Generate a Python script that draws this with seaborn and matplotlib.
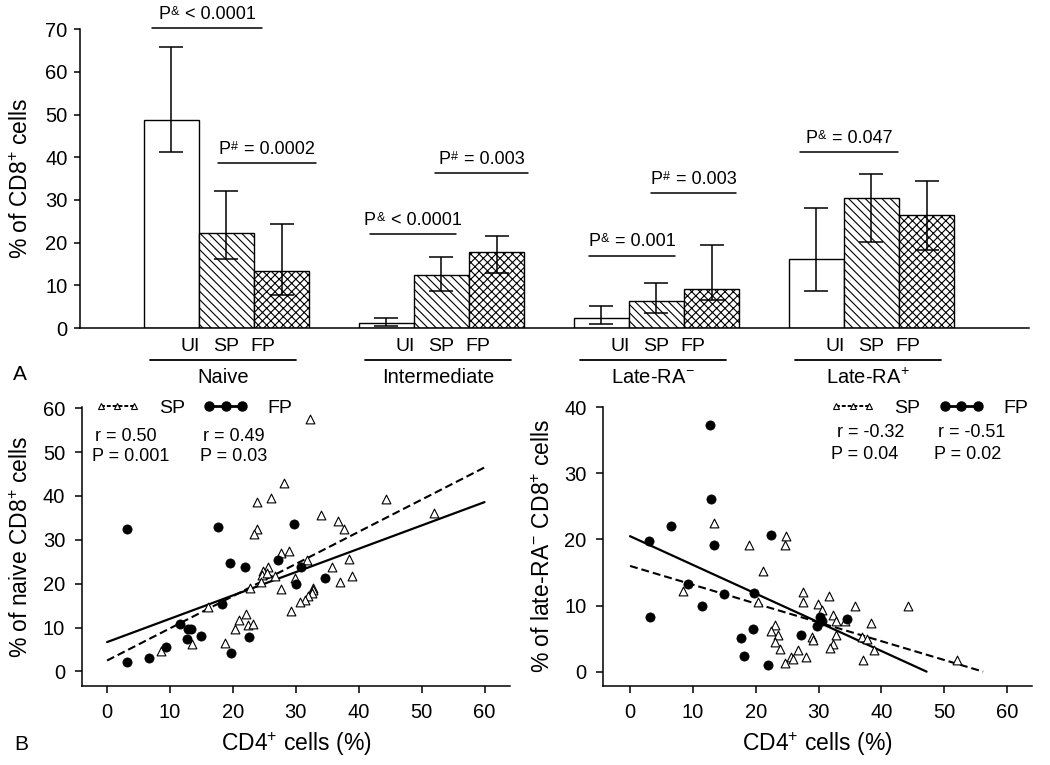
import matplotlib
matplotlib.use("Agg")
import matplotlib.pyplot as plt
from matplotlib.lines import Line2D
from matplotlib.offsetbox import TextArea, HPacker, AnnotationBbox
import seaborn as sns
import pandas as pd
import numpy as np

sns.set_style("ticks")
plt.rcParams['font.family'] = ['Liberation Sans', 'DejaVu Sans']
plt.rcParams['mathtext.fontset'] = 'custom'
plt.rcParams['mathtext.rm'] = 'Liberation Sans'
plt.rcParams['mathtext.it'] = 'Liberation Sans:italic'
plt.rcParams['mathtext.bf'] = 'Liberation Sans:bold'
plt.rcParams['hatch.linewidth'] = 0.8
for key in ['text.color', 'axes.labelcolor', 'xtick.color', 'ytick.color',
            'axes.edgecolor']:
    plt.rcParams[key] = 'black'

# ---- panel A: bar chart ----
groups = ["Naive", "Intermediate", "Late-RA$^{-}$", "Late-RA$^{+}$"]
subsets = ["UI", "SP", "FP"]
ui_mean = [48.8, 1.3, 2.3, 16.1]
ui_low = [41.2, 0.5, 0.9, 8.7]
ui_high = [65.9, 2.5, 5.2, 28.2]
sp_mean = [22.2, 12.4, 6.4, 30.4]
sp_low = [16.3, 8.7, 3.5, 20.1]
sp_high = [32.0, 16.6, 10.5, 36.1]
fp_mean = [13.3, 17.9, 9.2, 26.6]
fp_low = [7.7, 12.8, 6.7, 18.4]
fp_high = [24.4, 21.6, 19.5, 34.4]

p_sup = ["&", "#", "&", "#", "&", "#", "&"]
p_text = ["< 0.0001", "= 0.0002", "< 0.0001", "= 0.003", "= 0.001",
          "= 0.003", "= 0.047"]
p_x0 = [-0.347, -0.040, 0.667, 0.970, 1.686, 1.974, 2.667]
p_x1 = [0.165, 0.416, 1.066, 1.402, 2.086, 2.370, 3.123]
p_y = [70.2, 38.6, 22.0, 36.3, 17.0, 31.7, 41.2]

# ---- panel B: scatter (naive) ----
naive_fp_x = [3.1, 3.1, 6.6, 9.3, 11.6, 12.7, 12.9, 13.4, 15.0, 17.7,
              18.2, 19.6, 19.7, 21.9, 22.6, 27.2, 29.7, 30.1, 30.8, 34.6]
naive_fp_y = [32.4, 2.05, 3.0, 5.5, 10.9, 7.4, 9.6, 9.6, 8.0, 32.9,
              15.4, 24.7, 4.25, 23.9, 7.8, 25.4, 33.6, 19.9, 23.9, 21.3]
naive_sp_x = [32.3, 28.1, 26.0, 23.8, 44.3, 34.0, 52.0, 36.7, 37.6, 23.9,
              23.4, 27.6, 29.0, 38.4, 31.8, 35.8, 25.6, 24.8, 24.6, 25.4,
              26.7, 29.9, 39.0, 37.1, 24.5, 27.7, 32.7, 32.8, 32.5, 32.0,
              31.5, 30.6, 29.2, 22.1, 21.0, 22.4, 23.2, 20.3, 18.7, 13.5,
              8.6, 22.8, 16.1]
naive_sp_y = [57.5, 43.0, 39.6, 38.6, 39.4, 35.7, 36.2, 34.2, 32.5, 32.4,
              31.3, 27.1, 27.4, 25.7, 25.4, 23.8, 23.9, 22.8, 22.0, 22.4,
              21.8, 21.3, 21.8, 20.3, 20.5, 18.8, 19.1, 18.6, 18.0, 17.3,
              16.3, 15.8, 13.7, 13.1, 11.8, 10.6, 10.8, 9.6, 6.6, 6.2,
              4.6, 19.0, 14.8]
naive_sp_line_x = [0, 60]
naive_sp_line_y = [2.5, 46.5]
naive_fp_line_x = [0, 60]
naive_fp_line_y = [6.7, 38.6]
naive_stats = ["r = 0.50", "P = 0.001", "r = 0.49", "P = 0.03"]

# ---- panel B: scatter (late-RA-) ----
late_fp_x = [3.0, 3.1, 6.5, 9.3, 11.4, 12.7, 12.9, 13.3, 15.0, 17.6,
             18.2, 19.6, 19.8, 22.0, 22.5, 27.2, 29.7, 30.2, 30.6, 34.6]
late_fp_y = [19.7, 8.2, 22.0, 13.2, 9.9, 37.4, 26.1, 19.1, 11.8, 5.1,
             2.3, 6.4, 11.9, 1.0, 20.7, 5.5, 6.9, 8.2, 7.6, 7.9]
late_sp_x = [13.4, 24.8, 24.6, 18.9, 21.1, 8.5, 20.3, 27.6, 27.5, 31.6,
             29.9, 30.5, 35.8, 44.2, 32.3, 32.8, 34.2, 38.3, 23.1, 22.4,
             23.6, 32.8, 28.9, 29.2, 36.9, 37.7, 23.1, 32.3, 31.9, 23.8,
             26.8, 38.8, 28.0, 25.6, 26.0, 24.7, 37.1, 52.0]
late_sp_y = [22.5, 20.5, 19.2, 19.1, 15.3, 12.2, 10.5, 12.0, 10.5, 11.5,
             10.2, 9.4, 9.9, 9.9, 8.6, 7.6, 7.6, 7.4, 7.0, 6.2,
             5.6, 5.6, 5.3, 4.8, 5.2, 4.9, 4.5, 4.2, 3.6, 3.4,
             3.3, 3.3, 2.2, 2.2, 1.9, 1.3, 1.8, 1.7]
late_sp_line_x = [0, 56.2]
late_sp_line_y = [16.0, 0.0]
late_fp_line_x = [0, 47.2]
late_fp_line_y = [20.5, 0.0]
late_stats = ["r = -0.32", "P = 0.04", "r = -0.51", "P = 0.02"]

fig = plt.figure(figsize=(10.5, 7.65), dpi=100)

# ================= panel A =================
ax_a = fig.add_axes([0.0762, 0.571, 0.9038, 0.391])
rows = []
for subset, means in zip(subsets, [ui_mean, sp_mean, fp_mean]):
    for g, m in zip(groups, means):
        rows.append({"group": g, "subset": subset, "value": m})
bar_df = pd.DataFrame(rows)

sns.barplot(data=bar_df, x="group", y="value", hue="subset", order=groups,
            hue_order=subsets, palette=["white"] * 3, saturation=1,
            edgecolor="black", linewidth=1.0, width=0.77, errorbar=None,
            legend=False, ax=ax_a)

for cont, hatch, mean, lo, hi in zip(ax_a.containers, ["", "\\\\\\\\", "xxxx"],
                                     [ui_mean, sp_mean, fp_mean],
                                     [ui_low, sp_low, fp_low],
                                     [ui_high, sp_high, fp_high]):
    xs = []
    for bar in cont:
        bar.set_hatch(hatch)
        xs.append(bar.get_x() + bar.get_width() / 2)
    mean = np.array(mean)
    ax_a.errorbar(xs, mean, yerr=[mean - np.array(lo), np.array(hi) - mean],
                  fmt="none", ecolor="black", elinewidth=1.1, capsize=8.5,
                  capthick=1.1, zorder=5)

ax_a.set_xlim(-0.681, 3.733)
ax_a.set_ylim(0, 70)
ax_a.set_yticks(range(0, 71, 10))
tick_pos = [k + o for k in range(len(groups)) for o in (-0.17, 0.0, 0.17)]
ax_a.set_xticks(tick_pos, subsets * len(groups))
ax_a.tick_params(axis="x", length=0, pad=7, labelsize=14)
ax_a.tick_params(axis="y", length=4, width=1.1, pad=5, labelsize=14.5)
ax_a.set_xlabel("")
ax_a.set_ylabel("% of CD8$^{+}$ cells", fontsize=16.5, labelpad=9)
sns.despine(ax=ax_a)
for s in ["left", "bottom"]:
    ax_a.spines[s].set_linewidth(1.1)

trans = ax_a.get_xaxis_transform()
for k, name in enumerate(groups):
    ax_a.plot([k - 0.355, k + 0.325], [-0.106, -0.106], transform=trans,
              color="black", lw=1.3, clip_on=False)
    ax_a.text(k - 0.015, -0.165, name, transform=trans, ha="center",
              va="center", fontsize=14.5)

for sup, txt, x0, x1, y in zip(p_sup, p_text, p_x0, p_x1, p_y):
    ax_a.plot([x0, x1], [y, y], color="black", lw=1.1, clip_on=False)
    box = HPacker(children=[TextArea("P", textprops=dict(fontsize=13)),
                            TextArea(sup, textprops=dict(fontsize=9)),
                            TextArea(" " + txt, textprops=dict(fontsize=13))],
                  align="top", pad=0, sep=0.5)
    ab = AnnotationBbox(box, ((x0 + x1) / 2, y + 1.2), xycoords="data",
                        box_alignment=(0.5, 0), frameon=False, pad=0,
                        annotation_clip=False)
    ax_a.add_artist(ab)

fig.text(0.012, 0.5105, "A", fontsize=15, va="center")
fig.text(0.014, 0.0268, "B", fontsize=15, va="center")


# ================= panel B =================
def scatter_panel(ax, sp_x, sp_y, fp_x, fp_y, sp_lx, sp_ly, fp_lx, fp_ly,
                  ylabel, yticks, ylim, xlim, stats, leg_x, stat_pos):
    ax.plot(sp_lx, sp_ly, color="black", lw=1.5, ls=(0, (3.8, 1.9)), zorder=2)
    ax.plot(fp_lx, fp_ly, color="black", lw=1.6, zorder=2)
    sns.scatterplot(x=sp_x, y=sp_y, marker="^", s=40, color="white",
                    edgecolor="black", linewidth=0.8, ax=ax, zorder=3)
    sns.scatterplot(x=fp_x, y=fp_y, marker="o", s=44, color="black",
                    edgecolor="black", linewidth=0.5, ax=ax, zorder=3)
    ax.set_xlim(*xlim)
    ax.set_ylim(*ylim)
    ax.set_xticks(range(0, 61, 10))
    ax.set_yticks(yticks)
    ax.tick_params(length=5, width=1.1, pad=7, labelsize=14.5)
    ax.set_xlabel("CD4$^{+}$ cells (%)", fontsize=16.5, labelpad=6)
    ax.set_ylabel(ylabel, fontsize=16.5, labelpad=7)
    sns.despine(ax=ax)
    for s in ["left", "bottom"]:
        ax.spines[s].set_linewidth(1.1)
    handles = [Line2D([], [], color="black", lw=1.4, ls=(0, (2, 1)),
                      marker="^", mfc="white", mec="black", ms=5, mew=0.8),
               Line2D([], [], color="black", lw=2.0, marker="o", ms=6.5)]
    ax.legend(handles, ["SP", "FP"], ncol=2, loc="upper left",
              bbox_to_anchor=(leg_x, 1.025), frameon=False, numpoints=3,
              handlelength=2.3, handletextpad=1.0, columnspacing=0.95,
              fontsize=14, borderaxespad=0, borderpad=0)
    for txt, (tx, ty) in zip(stats, stat_pos):
        ax.text(tx, ty, txt, transform=ax.transAxes, ha="left", va="center",
                fontsize=13)


ax_b1 = fig.add_axes([0.078, 0.1033, 0.408, 0.3651])
scatter_panel(ax_b1, naive_sp_x, naive_sp_y, naive_fp_x, naive_fp_y,
              naive_sp_line_x, naive_sp_line_y, naive_fp_line_x, naive_fp_line_y,
              "% of naive CD8$^{+}$ cells", range(0, 61, 10), (-3.3, 60.35),
              (-4.0, 64.1), naive_stats, 0.030,
              [(0.030, 0.895), (0.024, 0.822), (0.283, 0.895), (0.276, 0.822)])

ax_b2 = fig.add_axes([0.5746, 0.1033, 0.4084, 0.3651])
scatter_panel(ax_b2, late_sp_x, late_sp_y, late_fp_x, late_fp_y,
              late_sp_line_x, late_sp_line_y, late_fp_line_x, late_fp_line_y,
              "% of late-RA$^{-}$ CD8$^{+}$ cells", range(0, 41, 10), (-2.17, 40.1),
              (-4.25, 64.0), late_stats, 0.529,
              [(0.544, 0.908), (0.531, 0.830), (0.781, 0.908), (0.771, 0.830)])

fig.savefig("out.png", dpi=100)
